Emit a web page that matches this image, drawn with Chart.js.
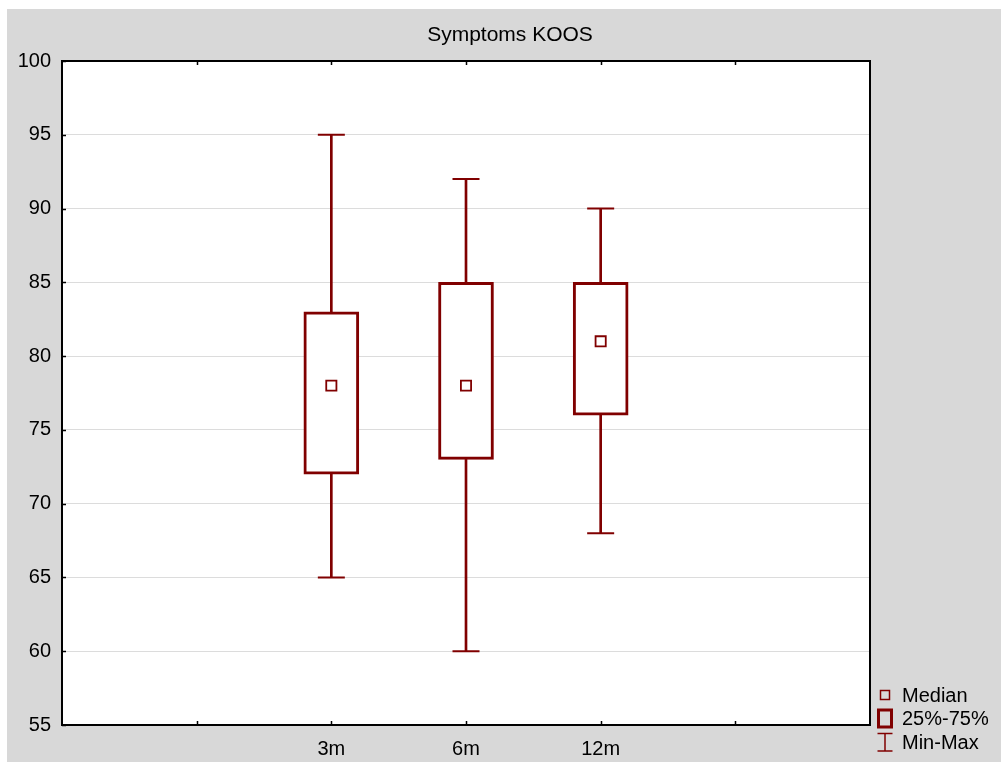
<!DOCTYPE html>
<html>
<head>
<meta charset="utf-8">
<script src="https://cdn.jsdelivr.net/npm/chart.js@4/dist/chart.umd.min.js"></script>
<style>
  html, body { margin: 0; padding: 0; background: #ffffff; }
  #wrap { width: 1001px; height: 762px; }
</style>
</head>
<body>
<div id="wrap"><canvas id="c" width="1001" height="762"></canvas></div>
<script>
// ---- data ----
const chartTitle = 'Symptoms KOOS';
const categories = ['3m', '6m', '12m'];
const minValues = [65, 60, 68];
const q1Values = [72, 73, 76];
const medianValues = [78, 78, 81];
const q3Values = [83, 85, 85];
const maxValues = [95, 92, 90];
const yMin = 55, yMax = 100, yStep = 5;
const legendLabels = ['Median', '25%-75%', 'Min-Max'];

// two empty slots each side of the categories
const slots = ['', ''].concat(categories, ['', '']);
const pad = arr => [null, null].concat(arr, [null, null]);

const RED = '#800000';
const FONT = "'Liberation Sans', Arial, sans-serif";
Chart.defaults.font.family = FONT;

const decor = {
  id: 'decor',
  beforeDraw(chart) {
    const ctx = chart.ctx, a = chart.chartArea;
    ctx.save();
    ctx.fillStyle = '#ffffff';
    ctx.fillRect(0, 0, chart.width, chart.height);
    ctx.fillStyle = '#d8d8d8';
    ctx.fillRect(7, 9, chart.width - 7, chart.height - 9);
    ctx.fillStyle = '#ffffff';
    ctx.fillRect(a.left, a.top, a.right - a.left, a.bottom - a.top);
    ctx.restore();
  },
  afterDraw(chart) {
    const ctx = chart.ctx, a = chart.chartArea;
    const xs = chart.scales.x, ys = chart.scales.y;
    ctx.save();
    // frame
    ctx.strokeStyle = '#000000';
    ctx.lineWidth = 2;
    ctx.strokeRect(a.left, a.top, a.right - a.left, a.bottom - a.top);
    // inward ticks
    ctx.lineWidth = 1.5;
    ctx.beginPath();
    ys.ticks.forEach(t => {
      const y = Math.round(ys.getPixelForValue(t.value)) + 0.5;
      ctx.moveTo(a.left, y); ctx.lineTo(a.left + 4, y);
    });
    for (let i = 1; i < slots.length - 1; i++) {
      const x = Math.round(xs.getPixelForValue(i)) + 0.5;
      ctx.moveTo(x, a.top); ctx.lineTo(x, a.top + 4);
      ctx.moveTo(x, a.bottom); ctx.lineTo(x, a.bottom - 4);
    }
    ctx.stroke();
    // title
    ctx.fillStyle = '#000000';
    ctx.font = '21px ' + FONT;
    ctx.textAlign = 'center';
    ctx.textBaseline = 'middle';
    ctx.fillText(chartTitle, 510, 35);
    // legend
    ctx.font = '20px ' + FONT;
    ctx.textAlign = 'left';
    const lx = 885, tx = 902;
    const ly = [695, 718, 742];
    ctx.strokeStyle = RED;
    // median icon
    ctx.lineWidth = 1.5;
    ctx.strokeRect(lx - 4.5, ly[0] - 4.5, 9, 9);
    // box icon
    ctx.lineWidth = 3;
    ctx.strokeRect(lx - 6.5, ly[1] - 8, 13, 17);
    // min-max icon
    ctx.lineWidth = 1.5;
    ctx.beginPath();
    ctx.moveTo(lx, ly[2] - 8.5); ctx.lineTo(lx, ly[2] + 9);
    ctx.moveTo(lx - 7.5, ly[2] - 8.5); ctx.lineTo(lx + 7.5, ly[2] - 8.5);
    ctx.moveTo(lx - 7.5, ly[2] + 9); ctx.lineTo(lx + 7.5, ly[2] + 9);
    ctx.stroke();
    ctx.fillStyle = '#000000';
    legendLabels.forEach((t, i) => ctx.fillText(t, tx, ly[i] + 1));
    ctx.restore();
  }
};

new Chart(document.getElementById('c'), {
  type: 'bar',
  data: {
    labels: slots,
    datasets: [
      {
        type: 'line', label: 'Median', order: 0,
        data: pad(medianValues), showLine: false,
        pointStyle: 'rect', pointRadius: 7.2, pointHoverRadius: 7.2,
        pointBorderWidth: 1.8, pointBackgroundColor: '#ffffff', pointBorderColor: RED
      },
      {
        label: '25%-75%', order: 1,
        data: pad(q1Values.map((q, i) => [q, q3Values[i]])),
        backgroundColor: '#ffffff', borderColor: RED, borderWidth: 3,
        borderSkipped: false, barThickness: 55, grouped: false
      },
      {
        label: 'upper whisker', order: 2,
        data: pad(q3Values.map((q, i) => [q, maxValues[i]])),
        backgroundColor: RED, borderWidth: 0, barThickness: 2, grouped: false
      },
      {
        label: 'lower whisker', order: 2,
        data: pad(minValues.map((m, i) => [m, q1Values[i]])),
        backgroundColor: RED, borderWidth: 0, barThickness: 2, grouped: false
      },
      {
        type: 'line', label: 'Max', order: 2,
        data: pad(maxValues), showLine: false,
        pointStyle: 'line', pointRadius: 13.5, pointHoverRadius: 13.5,
        pointBorderWidth: 2, pointBorderColor: RED
      },
      {
        type: 'line', label: 'Min', order: 2,
        data: pad(minValues), showLine: false,
        pointStyle: 'line', pointRadius: 13.5, pointHoverRadius: 13.5,
        pointBorderWidth: 2, pointBorderColor: RED
      }
    ]
  },
  options: {
    responsive: false,
    animation: false,
    events: [],
    layout: { padding: { top: 61, right: 131, left: 0, bottom: 0 } },
    plugins: { legend: { display: false }, title: { display: false }, tooltip: { enabled: false } },
    scales: {
      x: {
        type: 'category',
        offset: false,
        grid: { display: false, drawTicks: false },
        border: { display: false },
        ticks: { autoSkip: false, maxRotation: 0, color: '#000000', font: { size: 20 }, padding: 12 },
        afterFit(s) { s.height = 37; }
      },
      y: {
        min: yMin, max: yMax,
        grid: { color: '#dcdcdc', lineWidth: 1, drawTicks: false },
        border: { display: false },
        ticks: { stepSize: yStep, color: '#000000', font: { size: 20 }, padding: 11 },
        afterFit(s) { s.width = 62; }
      }
    }
  },
  plugins: [decor]
});
</script>
</body>
</html>
